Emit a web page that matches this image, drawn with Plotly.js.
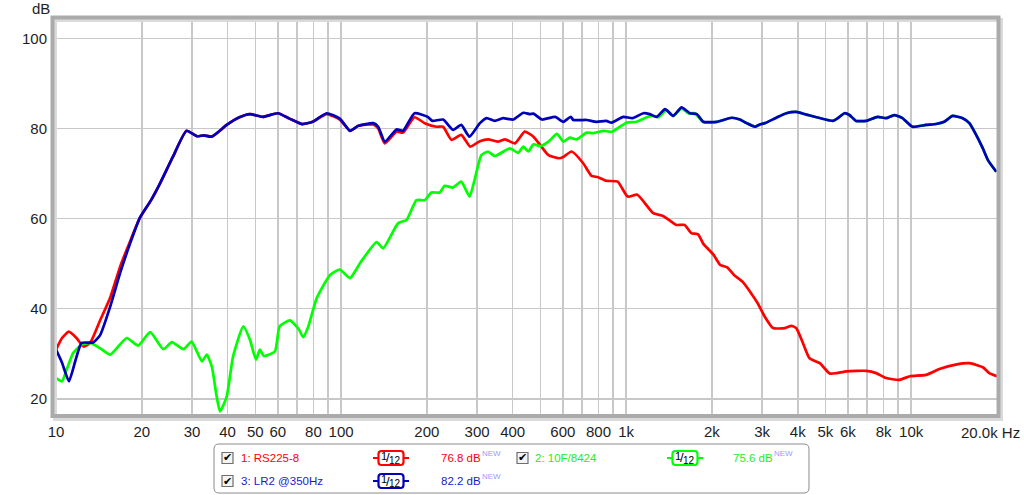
<!DOCTYPE html>
<html>
<head>
<meta charset="utf-8">
<script src="https://cdn.plot.ly/plotly-3.0.1.min.js"></script>
<style>
  html, body { margin: 0; padding: 0; background: #ffffff; }
  #chart { width: 1024px; height: 495px; }
</style>
</head>
<body>
<div id="chart"></div>
<script>
// ---------------- DATA ----------------
const seriesNames = ["1: RS225-8", "2: 10F/8424", "3: LR2 @350Hz"];
const seriesLevels = ["76.8 dB", "75.6 dB", "82.2 dB"];
const smoothingLabel = ["1", "12"];

const freqRed = [10.0,10.5,11.1,11.8,12.5,13.2,14.3,15.5,16.8,18.2,19.7,21.5,23.2,25.7,28.7,31.2,33,35.2,39.7,44,47.9,53.2,60,66,72.9,79.5,89,99,107.5,115,129.7,135,142.4,156.5,165,181,196.5,216,228,244,264,284,307,328,356,376,407,441,473,500,534,580,602,644,707,756,797,852,934,1012,1095,1245,1348,1500,1604,1693,1789,1866,2025,2140,2262,2390,2560,2740,2895,3060,3275,3600,3800,3950,4170,4400,4780,5180,5470,5930,6950,7540,8160,9080,9900,11270,12560,14330,16000,17840,18800,20000];
const dbRed = [30.9,33.5,34.9,33.5,31.6,32.5,37.5,42.5,49.4,55,60.2,64,67.9,73.7,79.5,78.3,78.5,78.2,80.8,82.5,83.2,82.6,83.4,82.2,81.0,81.5,83.2,82.0,79.5,80.6,80.9,80.0,76.7,79.3,79.1,82.5,81.2,80.4,80.4,77.5,78.6,76.0,77.2,77.6,77.1,77.6,76.7,79.3,78.2,76.3,74.1,73.4,73.7,74.9,72.3,69.5,69.2,68.4,68.2,64.9,65.3,61.2,60.6,58.6,58.6,56.8,56.5,54.4,52.0,49.7,49.2,47.5,46.0,43.5,41.2,38.3,35.7,35.7,36.2,35.7,32.4,29.0,27.9,25.6,25.7,26.1,26.2,25.7,24.6,24.2,25.0,25.3,26.6,27.6,27.9,27.0,25.7,25.0];

const freqGreen = [10.0,10.5,10.9,11.5,12.3,13.2,14.3,15.5,17.7,19.4,21.4,23.8,25.5,28.0,29.9,32.5,33.8,35.2,36.5,37.6,39.7,41.8,45.4,47.9,50.3,51.9,53.6,58.6,60.9,66.2,71,73.6,76.6,82.1,91.5,99,107.5,116.5,133.2,140.4,158.6,169.7,183.8,196.5,207.4,221.8,230.8,246.8,264,282.4,294,310.6,327.8,346,391,418,436,454,473,500,534,572,602,635,670,727,767,832,889,951,1003,1088,1180,1245,1296,1386,1462,1565,1652,1745,1866,2080,2345,2507,2647,2830,2945,3065,3365,3647,3954,4287,5310,5530,5836,6073,6410,6950,7627,8160,8720,9320,10100,11270,12220,13060,13970,15160,16000,16900,17840,18590,19890];
const dbGreen = [24.6,23.9,26.5,30.2,32.0,32.4,31.2,29.8,33.5,31.8,34.8,31.0,32.6,31.0,32.7,28.3,29.8,27.2,21.0,17.2,20.5,29.4,36.1,33.1,28.7,30.9,29.5,30.5,36.1,37.4,35.5,33.7,35.9,42.3,47.5,48.7,46.8,50.1,54.8,53.4,59.0,59.7,64.1,64.1,65.8,65.8,67.3,66.9,68.2,64.9,68.6,74.1,74.9,73.9,75.6,74.6,76.0,74.9,76.5,76.1,77.1,78.8,77.1,78.0,77.6,79.1,79.0,79.5,79.3,80.4,81.3,81.5,82.5,82.8,82.5,84.1,82.8,84.5,83.4,83.4,81.4,81.5,82.4,82.0,81.2,80.4,80.9,81.2,82.4,83.4,83.7,83.1,81.7,82.3,83.4,83.0,81.7,81.7,82.6,82.3,83.0,82.3,80.4,80.8,81.0,81.5,82.8,82.3,81.2,78.6,75.6,73.0,70.4];

const freqBlue = [10.0,10.5,11.1,11.7,12.3,13.5,14.3,15.5,16.8,18.2,19.7,21.5,23.2,25.7,28.7,31.2,33,35.2,39.7,44,47.9,53.2,60,66,72.9,79.5,89,99,107.5,115,129.7,135,142.4,156.5,165,181,201.5,209,228,247,264,282,307,324,346,370,402,436,460,473,507,564,602,639,653,727,787,852,889,978,1052,1150,1210,1280,1370,1462,1565,1672,1770,1866,2080,2345,2507,2647,2830,2945,3065,3365,3647,3954,4287,5310,5530,5836,6073,6410,6950,7627,8160,8720,9320,10100,11270,12220,13060,13970,15160,16000,16900,17840,18590,19890];
const dbBlue = [30.9,28.0,23.9,28.5,32.4,32.5,34.2,40.5,48.0,54.5,60.2,64,67.9,73.7,79.5,78.3,78.5,78.2,80.8,82.5,83.2,82.6,83.4,82.2,81.0,81.5,83.4,82.2,79.5,80.6,81.2,80.4,77.1,79.8,79.5,83.4,82.6,81.7,82.0,79.7,80.8,78.2,81.2,82.3,81.7,82.3,82.0,83.5,83.2,83.3,82.0,82.6,81.5,82.6,81.9,81.9,81.5,81.7,81.3,82.6,82.3,83.4,83.2,82.6,84.3,82.8,84.7,83.4,83.2,81.5,81.5,82.4,82.0,81.2,80.4,80.9,81.2,82.4,83.4,83.7,83.1,81.7,82.3,83.4,83.0,81.7,81.7,82.6,82.3,83.0,82.3,80.4,80.8,81.0,81.5,82.8,82.3,81.2,78.6,75.6,73.0,70.4];

const xGridVals = [10,20,30,40,50,60,70,80,90,100,200,300,400,500,600,700,800,900,1000,2000,3000,4000,5000,6000,7000,8000,9000,10000,20000];
const xTickText = ["10","20","30","40","50","60","","80","","100","200","300","400","","600","","800","","1k","2k","3k","4k","5k","6k","","8k","","10k",""];
const xEndLabel = "20.0k Hz";
const yTickVals = [20,40,60,80,100];
const yUnitLabel = "dB";

// ---------------- STYLE ----------------
const colRed = "#ff0000", colGreen = "#00ff00", colBlue = "#0000bb";
const txtRed = "#ff0000", txtGreen = "#22ee22", txtBlue = "#1a1acc";

const W = 1024, H = 495;
const M = {l: 56, r: 27, t: 20, b: 80};
const PW = W - M.l - M.r, PH = H - M.t - M.b;
const px = x => (x - M.l) / PW;
const py = y => (H - M.b - y) / PH;

function roundRectPath(x0, y0, x1, y1, r) {
  const X = v => px(v).toFixed(5), Y = v => py(v).toFixed(5);
  return `M${X(x0 + r)},${Y(y0)} L${X(x1 - r)},${Y(y0)} Q${X(x1)},${Y(y0)} ${X(x1)},${Y(y0 + r)} ` +
         `L${X(x1)},${Y(y1 - r)} Q${X(x1)},${Y(y1)} ${X(x1 - r)},${Y(y1)} ` +
         `L${X(x0 + r)},${Y(y1)} Q${X(x0)},${Y(y1)} ${X(x0)},${Y(y1 - r)} ` +
         `L${X(x0)},${Y(y0 + r)} Q${X(x0)},${Y(y0)} ${X(x0 + r)},${Y(y0)} Z`;
}

const lineW = 2.7;
const traces = [
  {x: freqRed, y: dbRed, name: seriesNames[0], mode: "lines", line: {color: colRed, width: lineW, shape: "spline", smoothing: 0.5}, hoverinfo: "skip"},
  {x: freqGreen, y: dbGreen, name: seriesNames[1], mode: "lines", line: {color: colGreen, width: lineW, shape: "spline", smoothing: 0.5}, hoverinfo: "skip"},
  {x: freqBlue, y: dbBlue, name: seriesNames[2], mode: "lines", line: {color: colBlue, width: lineW, shape: "spline", smoothing: 0.5}, hoverinfo: "skip"}
];

const shapes = [];
const annotations = [];

// plot frame with shadow
shapes.push({type: "rect", xref: "paper", yref: "paper", layer: "above",
  x0: px(55), x1: px(1001), y0: py(419), y1: py(20),
  line: {color: "#dadada", width: 4}, fillcolor: "rgba(0,0,0,0)"});
shapes.push({type: "rect", xref: "paper", yref: "paper", layer: "above",
  x0: px(52.5), x1: px(998.5), y0: py(416), y1: py(17.5),
  line: {color: "#ababab", width: 4}, fillcolor: "rgba(0,0,0,0)"});

// axis labels
annotations.push({xref: "paper", yref: "paper", x: px(41), y: py(8), text: yUnitLabel, showarrow: false,
  xanchor: "center", yanchor: "middle", font: {size: 15, color: "#1e1e1e"}});
annotations.push({xref: "paper", yref: "paper", x: px(1022), y: py(432), text: xEndLabel, showarrow: false,
  xanchor: "right", yanchor: "middle", font: {size: 15, color: "#1e1e1e"}});

// legend box
shapes.push({type: "path", xref: "paper", yref: "paper", path: roundRectPath(214, 444, 809, 493, 5),
  line: {color: "#8c8c8c", width: 1}, fillcolor: "#ffffff"});

const legendItems = [
  {name: seriesNames[0], level: seriesLevels[0], col: colRed, txt: txtRed, cbx: 222, cy: 458, tx: 239, fx: 373, vx: 439},
  {name: seriesNames[2], level: seriesLevels[2], col: colBlue, txt: txtBlue, cbx: 222, cy: 481, tx: 239, fx: 373, vx: 439},
  {name: seriesNames[1], level: seriesLevels[1], col: colGreen, txt: txtGreen, cbx: 517, cy: 458, tx: 533, fx: 667, vx: 731}
];

legendItems.forEach(it => {
  // checkbox
  shapes.push({type: "rect", xref: "paper", yref: "paper",
    x0: px(it.cbx), x1: px(it.cbx + 11), y0: py(it.cy + 5.5), y1: py(it.cy - 5.5),
    line: {color: "#6e6e6e", width: 1.2}, fillcolor: "#f4f4f4"});
  annotations.push({xref: "paper", yref: "paper", x: px(it.cbx + 5.8), y: py(it.cy), text: "✔",
    showarrow: false, xanchor: "center", yanchor: "middle", font: {family: "DejaVu Sans", size: 11, color: "#000000"}});
  // name
  annotations.push({xref: "paper", yref: "paper", x: px(it.tx), y: py(it.cy), text: it.name,
    showarrow: false, xanchor: "left", yanchor: "middle", font: {size: 11.5, color: it.txt}});
  // smoothing icon
  shapes.push({type: "line", xref: "paper", yref: "paper", x0: px(it.fx), x1: px(it.fx + 36), y0: py(it.cy), y1: py(it.cy),
    line: {color: it.col, width: 2}});
  shapes.push({type: "path", xref: "paper", yref: "paper", path: roundRectPath(it.fx + 5.5, it.cy - 7, it.fx + 30.5, it.cy + 7, 3),
    line: {color: it.col, width: 2.2}, fillcolor: "#ffffff"});
  annotations.push({xref: "paper", yref: "paper", x: px(it.fx + 11), y: py(it.cy - 2), text: smoothingLabel[0],
    showarrow: false, xanchor: "center", yanchor: "middle", font: {size: 11, color: "#000000"}});
  annotations.push({xref: "paper", yref: "paper", x: px(it.fx + 14.5), y: py(it.cy), text: "/",
    showarrow: false, xanchor: "center", yanchor: "middle", font: {size: 13, color: "#000000"}});
  annotations.push({xref: "paper", yref: "paper", x: px(it.fx + 21.5), y: py(it.cy + 2), text: smoothingLabel[1],
    showarrow: false, xanchor: "center", yanchor: "middle", font: {size: 10, color: "#000000"}});
  // level + NEW
  annotations.push({xref: "paper", yref: "paper", x: px(it.vx), y: py(it.cy), text: it.level,
    showarrow: false, xanchor: "left", yanchor: "middle", font: {size: 11.5, color: it.txt}});
  annotations.push({xref: "paper", yref: "paper", x: px(it.vx + 41), y: py(it.cy - 4.5), text: "NEW",
    showarrow: false, xanchor: "left", yanchor: "middle", font: {size: 8, color: "#9a9aff"}});
});

const layout = {
  width: W, height: H,
  margin: M,
  paper_bgcolor: "#ffffff", plot_bgcolor: "#ffffff",
  showlegend: false,
  font: {family: "Liberation Sans, Arial, sans-serif", size: 15, color: "#1e1e1e"},
  xaxis: {
    type: "log", range: [1, Math.log10(20000)],
    tickmode: "array", tickvals: xGridVals, ticktext: xTickText,
    showgrid: true, gridcolor: "#c8c8c8", gridwidth: 1.5,
    zeroline: false, showline: false, ticks: "", ticklabelstandoff: 6,
    tickfont: {size: 15, color: "#1e1e1e"}, fixedrange: true
  },
  yaxis: {
    range: [16.4, 104.1],
    tickmode: "array", tickvals: yTickVals,
    showgrid: true, gridcolor: "#c8c8c8", gridwidth: 1.5,
    zeroline: false, showline: false, ticks: "", ticklabelstandoff: 8,
    tickfont: {size: 15, color: "#1e1e1e"}, fixedrange: true
  },
  shapes: shapes,
  annotations: annotations
};

Plotly.newPlot("chart", traces, layout, {displayModeBar: false, staticPlot: true});
</script>
</body>
</html>
